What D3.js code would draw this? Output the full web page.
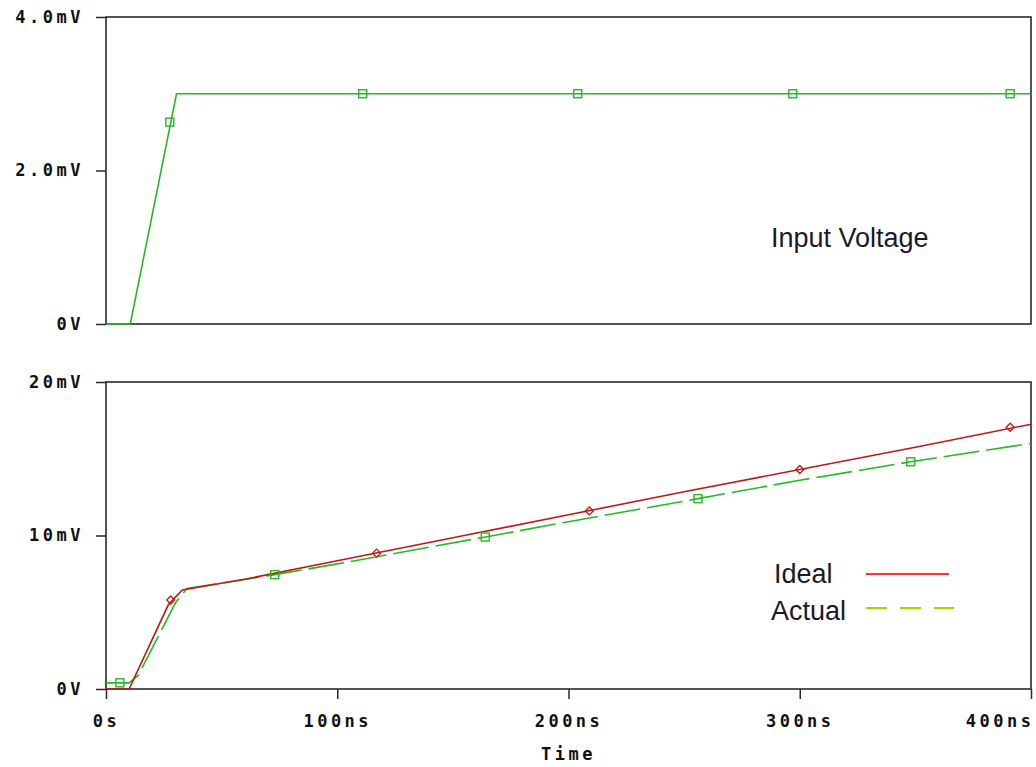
<!DOCTYPE html>
<style>
  body { margin: 0; background: #fff; }
  .tick text, .lbl-bold { font-family: "DejaVu Sans Mono", monospace; font-weight: bold; font-size: 17px; letter-spacing: 3.5px; fill: #111; }
  .legend { font-family: "Liberation Sans", Arial, sans-serif; font-size: 27px; fill: #1a1a2a; }
</style>
<body></body>
<script src="https://cdn.jsdelivr.net/npm/d3@7"></script>
<script>
  const width = 1036
  const height = 767

  // input voltage (mV) vs time (ns)
  const inputTime = [0, 10.5, 30.5, 400]
  const inputVal = [0, 0, 3.0, 3.0]
  const inputMarkTime = [27.6, 111, 204, 297, 391]
  const inputMarkVal = [2.63, 3.0, 3.0, 3.0, 3.0]

  // ideal output
  const idealTime = [0, 10, 27, 33, 60, 100, 150, 200, 250, 300, 350, 400]
  const idealVal = [0, 0, 5.5, 6.45, 7.15, 8.35, 9.85, 11.35, 12.85, 14.3, 15.75, 17.25]
  const idealMarkTime = [28, 117, 209, 300, 391]
  const idealMarkVal = [5.8, 8.85, 11.6, 14.3, 17.05]

  // actual output
  const actualTime = [0, 10, 14, 30, 35, 73, 100, 164, 200, 256, 300, 348, 400]
  const actualVal = [0.4, 0.4, 0.9, 5.6, 6.55, 7.45, 8.15, 9.9, 10.9, 12.4, 13.6, 14.8, 16.0]
  const actualMarkTime = [6, 73, 164, 256, 348]
  const actualMarkVal = [0.4, 7.45, 9.9, 12.4, 14.8]

  const timeTicks = [0, 100, 200, 300, 400]
  const timeTickLabels = ["0s", "100ns", "200ns", "300ns", "400ns"]
  const topTicks = [0, 2, 4]
  const topTickLabels = ["0V", "2.0mV", "4.0mV"]
  const botTicks = [0, 10, 20]
  const botTickLabels = ["0V", "10mV", "20mV"]

  const green = "#22bb22"
  const red = "#c01818"

  const svg = d3.select("body").append("svg")
    .attr("width", width)
    .attr("height", height)

  const x = d3.scaleLinear().domain([0, 400]).range([106, 1031])
  const yTop = d3.scaleLinear().domain([0, 4]).range([324, 17])
  const yBot = d3.scaleLinear().domain([0, 20]).range([689, 382])

  function zip(ts, vs) { return ts.map((t, i) => [t, vs[i]]) }

  function panel(y, ticks, labels) {
    const g = svg.append("g")
    g.append("rect")
      .attr("x", x(0)).attr("y", y.range()[1])
      .attr("width", x(400) - x(0)).attr("height", y.range()[0] - y.range()[1])
      .attr("fill", "none").attr("stroke", "#2a2a2a").attr("stroke-width", 1.6)
    const ax = g.append("g")
      .attr("transform", `translate(${x(0)},0)`)
      .call(d3.axisLeft(y).tickValues(ticks).tickFormat((d, i) => labels[i]).tickSize(10).tickPadding(12))
    ax.select(".domain").remove()
    ax.selectAll(".tick line").attr("stroke", "#2a2a2a").attr("stroke-width", 1.5)
    return g
  }

  function drawLine(g, y, data, color, dash) {
    g.append("path")
      .datum(data)
      .attr("fill", "none")
      .attr("stroke", color)
      .attr("stroke-width", 1.6)
      .attr("stroke-dasharray", dash || null)
      .attr("d", d3.line().x(d => x(d[0])).y(d => y(d[1])))
  }

  function squares(g, y, data, color) {
    g.selectAll(null).data(data).enter().append("rect")
      .attr("x", d => x(d[0]) - 4).attr("y", d => y(d[1]) - 4)
      .attr("width", 8).attr("height", 8)
      .attr("fill", "none").attr("stroke", color).attr("stroke-width", 1.4)
  }

  function diamonds(g, y, data, color) {
    g.selectAll(null).data(data).enter().append("path")
      .attr("d", d => `M${x(d[0])},${y(d[1]) - 4}l4,4l-4,4l-4,-4z`)
      .attr("fill", "none").attr("stroke", color).attr("stroke-width", 1.3)
  }

  // top panel
  const topPanel = panel(yTop, topTicks, topTickLabels)
  drawLine(topPanel, yTop, zip(inputTime, inputVal), green)
  squares(topPanel, yTop, zip(inputMarkTime, inputMarkVal), green)
  topPanel.append("text").attr("class", "legend").attr("x", 771).attr("y", 247).text("Input Voltage")

  // bottom panel
  const botPanel = panel(yBot, botTicks, botTickLabels)
  drawLine(botPanel, yBot, zip(actualTime, actualVal), green, "36,7")
  drawLine(botPanel, yBot, zip(idealTime, idealVal), red)
  squares(botPanel, yBot, zip(actualMarkTime, actualMarkVal), green)
  diamonds(botPanel, yBot, zip(idealMarkTime, idealMarkVal), red)

  const xa = botPanel.append("g")
    .attr("transform", `translate(0,${yBot(0)})`)
    .call(d3.axisBottom(x).tickValues(timeTicks).tickFormat((d, i) => timeTickLabels[i]).tickSize(10).tickPadding(16))
  xa.select(".domain").remove()
  xa.selectAll(".tick line").attr("stroke", "#2a2a2a").attr("stroke-width", 1.5)
  // last label sits flush with the right edge
  xa.selectAll(".tick text").filter(d => d === 400).attr("text-anchor", "end").attr("dx", 3)

  svg.append("text").attr("class", "lbl-bold")
    .attr("x", x(200)).attr("y", 760).attr("text-anchor", "middle").text("Time")

  // legend
  const leg = svg.append("g")
  leg.append("text").attr("class", "legend").attr("x", 774).attr("y", 583).text("Ideal")
  leg.append("line").attr("x1", 866).attr("x2", 949).attr("y1", 574).attr("y2", 574)
    .attr("stroke", "#ff3333").attr("stroke-width", 2)
  leg.append("text").attr("class", "legend").attr("x", 771).attr("y", 620).text("Actual")
  leg.append("line").attr("x1", 866).attr("x2", 954).attr("y1", 608).attr("y2", 608)
    .attr("stroke", "#99dd00").attr("stroke-width", 2).attr("stroke-dasharray", "21,13")
</script>
